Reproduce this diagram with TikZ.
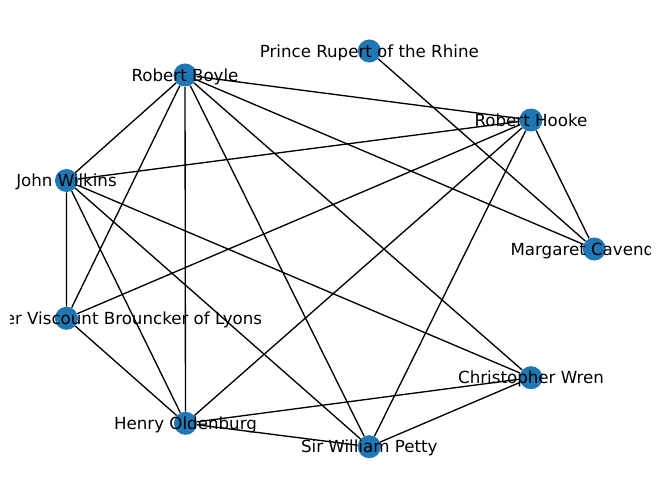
\documentclass[tikz,border=0pt]{standalone}
\usepackage{fontspec}
\setmainfont{DejaVu Sans}
\usepackage{tikz}
\usetikzlibrary{backgrounds}
\definecolor{nxblue}{HTML}{1F77B4}

\begin{document}
\begin{tikzpicture}[x=0.75pt,y=-0.75pt,
  fellow/.style={circle,fill=nxblue,minimum size=17.3pt,inner sep=0pt,
    label={[font=\fontsize{12.5pt}{14pt}\selectfont,text height=9.3pt,text depth=0pt,inner sep=0pt]center:#1}},
  link/.style={line width=1pt,black}]
  \useasboundingbox (0,0) rectangle (660,499);
  \clip (10,10) rectangle (650,489);
  \node[fellow={Prince Rupert of the Rhine}] (rupert) at (369.3,51) {};
  \node[fellow={Robert Boyle}] (boyle) at (185,75) {};
  \node[fellow={Robert Hooke}] (hooke) at (531,120) {};
  \node[fellow={John Wilkins}] (wilkins) at (66.5,180.5) {};
  \node[fellow={Margaret Cavendish}] (cavendish) at (594.3,249) {};
  \node[fellow={William Brouncker Viscount Brouncker of Lyons}] (brouncker) at (66.5,318.3) {};
  \node[fellow={Christopher Wren}] (wren) at (531,377.7) {};
  \node[fellow={Henry Oldenburg}] (oldenburg) at (185.5,423.3) {};
  \node[fellow={Sir William Petty}] (petty) at (369.3,446.7) {};
  \begin{scope}[on background layer]
    \draw[link] (boyle) -- (hooke) (boyle) -- (wilkins) (boyle) -- (brouncker)
      (boyle) -- (oldenburg) (boyle) -- (petty) (boyle) -- (wren)
      (boyle) -- (cavendish);
    \draw[link] (hooke) -- (wilkins) (hooke) -- (brouncker) (hooke) -- (oldenburg)
      (hooke) -- (petty) (hooke) -- (cavendish);
    \draw[link] (rupert) -- (cavendish);
    \draw[link] (wilkins) -- (brouncker) (wilkins) -- (oldenburg)
      (wilkins) -- (petty) (wilkins) -- (wren);
    \draw[link] (brouncker) -- (oldenburg) (oldenburg) -- (wren)
      (oldenburg) -- (petty) (petty) -- (wren);
  \end{scope}
\end{tikzpicture}
\end{document}
